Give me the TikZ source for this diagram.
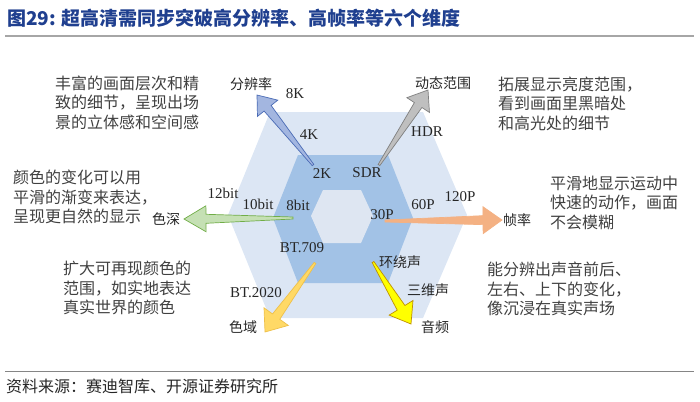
\documentclass[tikz,border=0pt]{standalone}
\usepackage{fontspec}
\setmainfont{Liberation Serif}
\newfontfamily\cjk{Noto Sans CJK SC}
\usetikzlibrary{calc}
\definecolor{titleblue}{HTML}{1F3F8F}
\definecolor{rulegray}{HTML}{A6A6A6}
\definecolor{notegray}{HTML}{404040}
\definecolor{labelgray}{HTML}{262626}
\definecolor{hexlight}{HTML}{DCE6F4}
\definecolor{hexmid}{HTML}{A2C2E6}
\definecolor{hexinner}{HTML}{DEE6F2}
\definecolor{resfill}{HTML}{A3B6E0}
\definecolor{resline}{HTML}{4A6BB5}
\definecolor{dynfill}{HTML}{BFBFBF}
\definecolor{dynline}{HTML}{7F7F7F}
\definecolor{depthfill}{HTML}{C5E0B4}
\definecolor{depthline}{HTML}{70AD47}
\definecolor{ratefill}{HTML}{F4B183}
\definecolor{gamutfill}{HTML}{FFD966}
\definecolor{gamutline}{HTML}{EEC04A}
\definecolor{audiofill}{HTML}{FFFF00}
\definecolor{audioline}{HTML}{BF9000}

\newcommand{\fatarrow}[5]{%
  \path[#1] ($(#2)!1pt!90:(#3)$)
    -- ($(#3)!#4!(#2)!4.5pt!90:(#3)$)
    -- ($(#3)!#4!(#2)!#5!90:(#3)$)
    -- (#3)
    -- ($(#3)!#4!(#2)!#5!-90:(#3)$)
    -- ($(#3)!#4!(#2)!4.5pt!-90:(#3)$)
    -- ($(#2)!1pt!-90:(#3)$) -- cycle;}

\begin{document}
\begin{tikzpicture}[x=1pt,y=-1pt,
  dimlbl/.style={font=\fontsize{15}{15}\selectfont,text=labelgray,inner sep=0},
  dimname/.style={font=\cjk\fontsize{14}{14}\selectfont,text=labelgray,inner sep=0},
  note/.style={font=\cjk\fontsize{16}{19.5}\selectfont,text=notegray,align=left,anchor=west,inner sep=0},
  arr/.style={line width=0.7pt,line join=miter}
]
  \useasboundingbox (0,0) rectangle (700,401);

  \node[anchor=west,inner sep=0,text=titleblue,font=\cjk\bfseries\fontsize{19}{20}\selectfont] (title) at (7,18) {图29: 超高清需同步突破高分辨率、高帧率等六个维度};
  \draw[rulegray,line width=2pt] (5,36) -- (694,36);

  \fill[hexlight] (270,112) -- (423,112) -- (467,215) -- (423,318) -- (270,318) -- (228,215) -- cycle;
  \fill[hexmid] (298,155) -- (388,155) -- (413,218) -- (388,283) -- (298,283) -- (273,218) -- cycle;
  \fill[hexinner] (323,190) -- (361,190) -- (373,216) -- (361,243) -- (323,243) -- (311,216) -- cycle;

  \coordinate (res0) at (313,165);  \coordinate (res1) at (257,95);
  \coordinate (dyn0) at (379,165);  \coordinate (dyn1) at (428,90);
  \coordinate (depth0) at (293,218); \coordinate (depth1) at (184,219);
  \coordinate (rate0) at (385,221); \coordinate (rate1) at (502,220);
  \coordinate (gamut0) at (315,263); \coordinate (gamut1) at (265,332);
  \coordinate (audio0) at (373,262); \coordinate (audio1) at (411,324);

  \fatarrow{arr,fill=resfill,draw=resline}{res0}{res1}{17pt}{13pt}
  \fatarrow{arr,fill=dynfill,draw=dynline}{dyn0}{dyn1}{18pt}{13.5pt}
  \fatarrow{arr,fill=depthfill,draw=depthline}{depth0}{depth1}{22pt}{13pt}
  \fatarrow{arr,fill=ratefill,draw=ratefill}{rate0}{rate1}{19pt}{13.5pt}
  \fatarrow{arr,fill=gamutfill,draw=gamutline}{gamut0}{gamut1}{19pt}{15pt}
  \fatarrow{arr,fill=audiofill,draw=audioline}{audio0}{audio1}{19pt}{14pt}

  \node[dimname] (res) at (251,84) {分辨率};
  \node[dimname] (dyn) at (443,83) {动态范围};
  \node[dimname] (depth) at (166,219) {色深};
  \node[dimname] (rate) at (517,220) {帧率};
  \node[dimname] (gamut) at (243,327) {色域};
  \node[dimname] (audio) at (435,327) {音频};
  \node[dimname] (surround) at (400,262) {环绕声};
  \node[dimname] (threed) at (428,290) {三维声};

  \node[dimlbl] (k8) at (295,94) {8K};
  \node[dimlbl] (k4) at (309,135) {4K};
  \node[dimlbl] (k2) at (322,174) {2K};
  \node[dimlbl] (hdr) at (427,132) {HDR};
  \node[dimlbl] (sdr) at (367,173) {SDR};
  \node[dimlbl] (b12) at (223,193) {12bit};
  \node[dimlbl] (b10) at (258,204) {10bit};
  \node[dimlbl] (b8) at (298,205) {8bit};
  \node[dimlbl] (p30) at (382,215) {30P};
  \node[dimlbl] (p60) at (423,205) {60P};
  \node[dimlbl] (p120) at (460,197) {120P};
  \node[dimlbl] (bt709) at (302,248) {BT.709};
  \node[dimlbl] (bt2020) at (256,293) {BT.2020};

  \node[note] (resnote) at (55,102.5) {丰富的画面层次和精\\致的细节，呈现出场\\景的立体感和空间感};
  \node[note] (depthnote) at (13,197) {颜色的变化可以用\\平滑的渐变来表达，\\呈现更自然的显示};
  \node[note] (gamutnote) at (63,288) {扩大可再现颜色的\\范围，如实地表达\\真实世界的颜色};
  \node[note] (dynnote) at (498,103.5) {拓展显示亮度范围，\\看到画面里黑暗处\\和高光处的细节};
  \node[note] (ratenote) at (550,203) {平滑地显示运动中\\快速的动作，画面\\不会模糊};
  \node[note] (audionote) at (487,289) {能分辨出声音前后、\\左右、上下的变化，\\像沉浸在真实声场};

  \draw[rulegray!80!black,line width=1pt] (5,371) -- (694,371);
  \node[anchor=west,inner sep=0,text=labelgray,font=\cjk\fontsize{16}{16}\selectfont] (source) at (6,386) {资料来源：赛迪智库、开源证券研究所};
\end{tikzpicture}
\end{document}
